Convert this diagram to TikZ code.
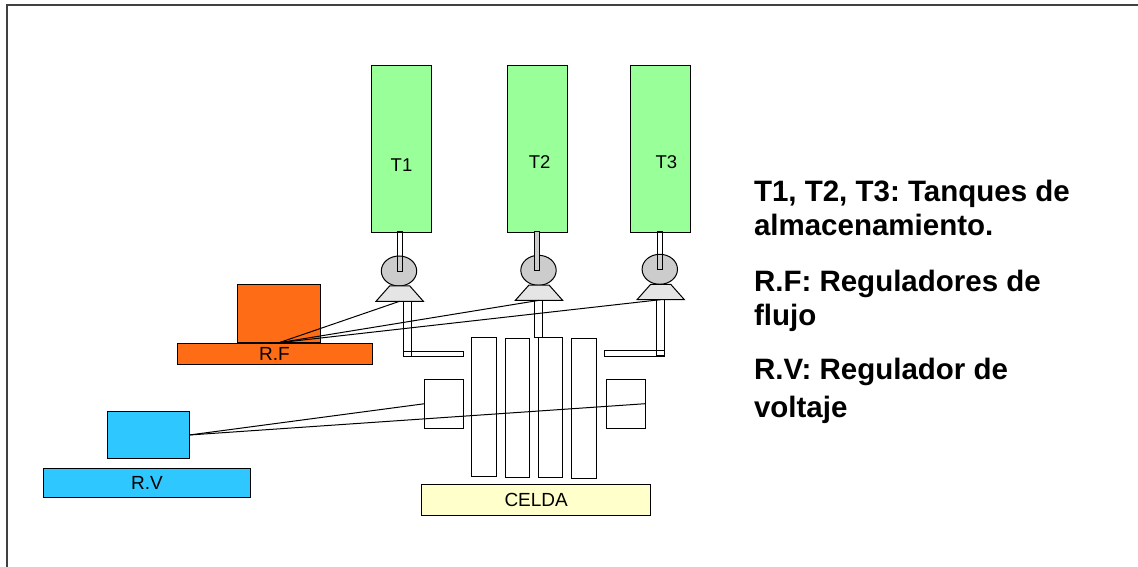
\documentclass[tikz,border=0pt]{standalone}
\usepackage{fontspec}
\setmainfont{Liberation Sans}
\usetikzlibrary{shapes.geometric}
\definecolor{tanque}{RGB}{153,255,153}
\definecolor{naranja}{RGB}{255,108,22}
\definecolor{celeste}{RGB}{46,199,255}
\definecolor{crema}{RGB}{255,255,204}
\definecolor{bomba}{RGB}{204,204,204}
\definecolor{base}{RGB}{229,229,229}
\tikzset{
rotulo/.style={draw=none, font=\fontsize{18.5}{22}\selectfont},
leyenda/.style={draw=none, anchor=north west, align=left, font=\fontsize{29.5}{33.4}\selectfont\bfseries\frenchspacing},
valvula/.style={trapezium, trapezium stretches=true, trapezium angle=56, inner sep=1pt, fill=base, minimum width=47.3pt, minimum height=15.3pt}
}
\begin{document}
\begin{tikzpicture}[x=1pt, y=-1pt, every node/.style={draw, inner sep=0pt, outer sep=0pt, line width=1pt}]
\useasboundingbox (0,0) rectangle (1138,567);
\draw[line width=1.2pt, black!75] (7,567) -- (7,5) -- (1138,5);
\node[fill=tanque, minimum width=60pt, minimum height=166pt, label={[rotulo, yshift=-16pt]center:T1}] (T1) at (401.5,149) {};
\node[fill=tanque, minimum width=60pt, minimum height=166pt, label={[rotulo, xshift=2pt, yshift=-13pt]center:T2}] (T2) at (537.7,149) {};
\node[fill=tanque, minimum width=60pt, minimum height=166pt, label={[rotulo, xshift=6pt, yshift=-13pt]center:T3}] (T3) at (660.3,149) {};
\node[ellipse, fill=bomba, minimum width=35.4pt, minimum height=30pt] (E1) at (399,271) {};
\node[ellipse, fill=bomba, minimum width=35.4pt, minimum height=30pt] (E2) at (538.5,270.3) {};
\node[ellipse, fill=bomba, minimum width=35.4pt, minimum height=30pt] (E3) at (659.8,269.3) {};
\node[minimum width=5.3pt, minimum height=40pt] (V1) at (399.7,251.7) {};
\node[fill=bomba, minimum width=5.3pt, minimum height=39pt] (V2) at (537,251.2) {};
\node[minimum width=5.3pt, minimum height=38pt] (V3) at (660.2,250.8) {};
\node[valvula] (C1) at (399.7,293.6) {};
\node[valvula] (C2) at (539,292.7) {};
\node[valvula] (C3) at (660.7,292) {};
\node[minimum width=8pt, minimum height=55.4pt] (L1) at (407.7,329) {};
\node[minimum width=8pt, minimum height=37.4pt] (L2) at (538.3,319) {};
\node[minimum width=7.6pt, minimum height=56pt] (L3) at (660.5,327.7) {};
\node[minimum width=60pt, minimum height=5.7pt] (H1) at (433.7,353.9) {};
\node[minimum width=60pt, minimum height=5.7pt] (H2) at (634.3,353.2) {};
\node[minimum width=24.6pt, minimum height=139.4pt] (P1) at (484,407) {};
\node[minimum width=24.6pt, minimum height=139.4pt] (P2) at (517.5,408) {};
\node[minimum width=24.6pt, minimum height=139.4pt] (P3) at (550.5,407.3) {};
\node[minimum width=24.6pt, minimum height=139.4pt] (P4) at (583.8,408.3) {};
\node[minimum width=39pt, minimum height=48.7pt] (A1) at (444.2,403.7) {};
\node[minimum width=39pt, minimum height=48.7pt] (A2) at (625.8,403.7) {};
\node[fill=crema, minimum width=229pt, minimum height=31.3pt, font=\fontsize{19}{22}\selectfont] (CELDA) at (536.2,500.3) {CELDA};
\node[fill=naranja, minimum width=83.4pt, minimum height=58.4pt] (RFC) at (279,313.5) {};
\node[fill=naranja, minimum width=195pt, minimum height=21pt, font=\fontsize{19}{22}\selectfont] (RF) at (274.5,353.8) {R.F};
\node[fill=celeste, minimum width=81.6pt, minimum height=47.4pt] (RVC) at (148.5,435) {};
\node[fill=celeste, minimum width=206.6pt, minimum height=28.7pt, font=\fontsize{19}{22}\selectfont] (RV) at (147,483.3) {R.V};
\draw[line width=1pt] (RFC.south) -- (C1.south);
\draw[line width=1pt] (RFC.south) -- (C2.south);
\draw[line width=1pt] (RFC.south) -- (C3.south);
\draw[line width=1pt] (RVC.east) -- (A1.west);
\draw[line width=1pt] (RVC.east) -- (A2.east);
\node[leyenda] (L1txt) at (754,180.5) {T1, T2, T3: Tanques de\\almacenamiento.};
\node[leyenda] (L2txt) at (754,270.5) {R.F: Reguladores de\\flujo};
\node[leyenda] (L3txt) at (754,358.5) {R.V: Regulador de\\[4pt]voltaje};
\end{tikzpicture}
\end{document}
